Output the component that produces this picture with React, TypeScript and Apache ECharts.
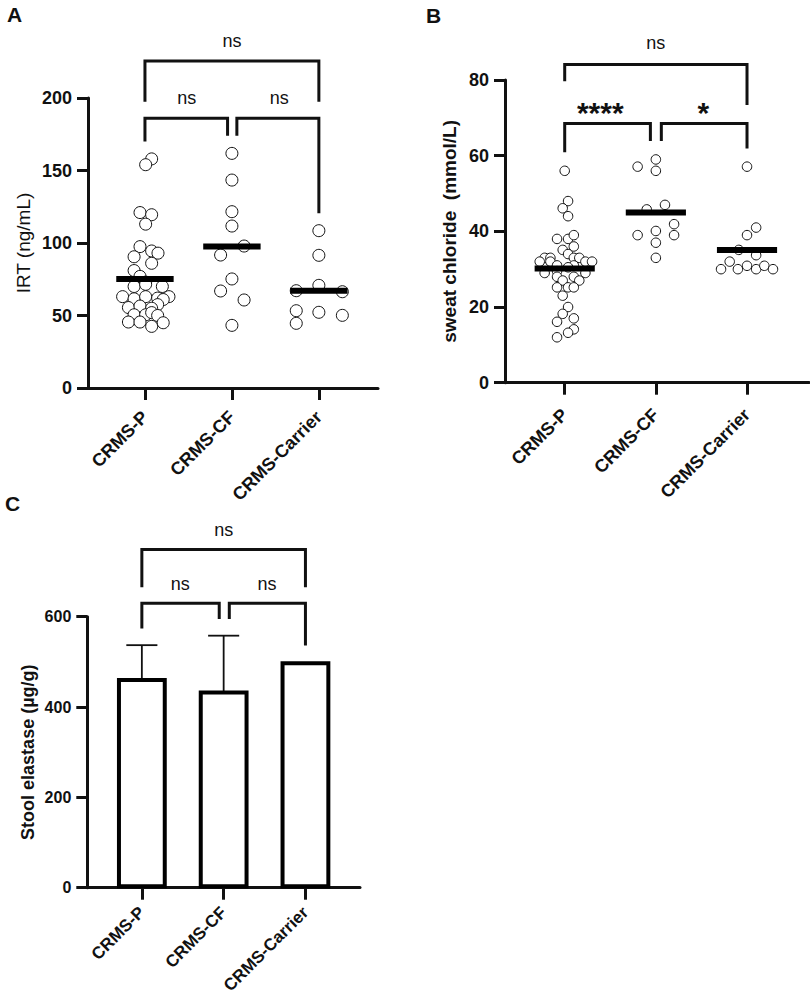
import React, { useEffect, useRef } from 'react';
import * as echarts from 'echarts';

const categories = ['CRMS-P', 'CRMS-CF', 'CRMS-Carrier'];

// Panel A – IRT (ng/mL); each point: [horizontal jitter within group, value]
const irtP = [
  [0.077, 158], [0.008, 154], [-0.057, 121], [0.077, 119.5], [0.008, 113],
  [-0.057, 97.5], [0.077, 94.5], [0.15, 93], [-0.125, 90.5], [0.077, 86],
  [-0.125, 81], [-0.057, 77], [0.008, 73],
  [-0.125, 70], [0.008, 71.5], [0.2, 70],
  [-0.257, 63], [-0.125, 61.5], [0.008, 63], [0.146, 62], [0.276, 63], [0.21, 61],
  [-0.19, 55.5], [-0.057, 56.5], [0.146, 57.5], [0.077, 55],
  [-0.125, 50.5], [0.008, 50.5], [0.077, 52], [0.146, 50],
  [-0.19, 45.5], [-0.057, 45.5], [0.077, 42.5], [0.21, 45],
];
const irtCF = [
  [0, 161.8], [0, 143.4], [0, 121.6], [0, 111.7], [0.14, 97.9],
  [-0.13, 91.7], [0, 75.2], [-0.13, 66.9], [0.14, 60.7], [0, 43.2],
];
const irtCarrier = [
  [0, 108.5], [0, 91.5], [0, 70.8], [-0.26, 67.1], [0.27, 66.4],
  [-0.26, 53.3], [0, 52.2], [0.27, 50.1], [-0.26, 44.6],
];
const irtMedians = [75.2, 97.6, 67.1];
const irtTicks = [0, 50, 100, 150, 200];

// Panel B – sweat chloride (mmol/L)
const chlorideP = [
  [0, 56], [0.037, 48], [-0.022, 46.1], [0.037, 44],
  [-0.084, 38], [0.037, 38], [0.1, 39], [0.1, 36], [-0.022, 35.1], [0.037, 34],
  [-0.22, 33], [-0.157, 33], [0.1, 33], [0.16, 33],
  [-0.274, 32], [-0.157, 32], [0.227, 32], [0.3, 32],
  [-0.084, 31], [0.1, 31], [0.037, 30.5],
  [-0.22, 29], [-0.084, 29.5], [0.227, 29],
  [-0.084, 28], [0.1, 28], [-0.022, 27], [0.16, 27],
  [-0.084, 25.2], [0.037, 25.2], [0.1, 25.2],
  [-0.022, 23], [0.037, 20], [-0.022, 18.2], [0.1, 17], [-0.084, 16.1],
  [0.1, 14.1], [0.037, 13.2], [-0.084, 12],
];
const chlorideCF = [
  [-0.2, 57.1], [0, 59], [0, 56], [-0.1, 45.8], [0.1, 47], [0.2, 41.9],
  [-0.2, 39], [0, 40.1], [0.2, 39], [0, 37], [0, 33],
];
const chlorideCarrier = [
  [0, 57.1], [0.1, 41], [0, 39], [-0.09, 35.1], [0.1, 33.7], [-0.19, 32],
  [-0.285, 30], [-0.1, 30], [0, 30.9], [0.1, 30], [0.19, 30.9], [0.285, 30],
];
const chlorideMedians = [30.2, 45.0, 35.1];
const chlorideTicks = [0, 20, 40, 60, 80];

// Panel C – stool elastase (µg/g)
const elastaseMeans = [460, 432, 497];
const elastaseUpper = [537, 558, null];
const elastaseTicks = [0, 200, 400, 600];

// Significance brackets: [x1, x2, yBar, yEnd1, yEnd2]
const bracketsA = [[0, 0.95, 186, 170, 174], [1.057, 2, 186, 174, 120.5], [0, 2, 225.5, 197.4, 197.4]];
const bracketsB = [[0, 0.94, 68.5, 60.9, 63.9], [1.06, 2, 68.5, 63.9, 61.9], [0, 2, 84.1, 79.7, 73.4]];
const bracketsC = [[0, 0.946, 630, 574, 595], [1.069, 2, 630, 595, 536], [0, 2, 749, 665, 665]];
const sigA = [{ x: 0.48, y: 198.6, text: 'ns' }, { x: 1.544, y: 198.6, text: 'ns' }, { x: 1.0, y: 237.7, text: 'ns' }];
const sigB = [{ x: 0.39, y: 73.1, text: '****' }, { x: 1.52, y: 73.1, text: '*' }, { x: 1.0, y: 89.2, text: 'ns' }];
const sigC = [{ x: 0.47, y: 668, text: 'ns' }, { x: 1.53, y: 668, text: 'ns' }, { x: 1.0, y: 788, text: 'ns' }];

const FONT = '"Liberation Sans", Arial, Helvetica, sans-serif';
const INK = '#111';

function xAxis(gridIndex: number, min: number, max: number, fontSize: number, margin: number) {
  return {
    type: 'value', gridIndex, min, max,
    axisLine: { show: true, onZero: false, lineStyle: { color: INK, width: 3 } },
    axisTick: { show: true, customValues: [0, 1, 2], length: 12, inside: false, lineStyle: { color: INK, width: 3 } },
    axisLabel: {
      customValues: [0, 1, 2], rotate: 45, margin, color: INK,
      fontFamily: FONT, fontWeight: 'bold', fontSize,
      formatter: (v: number) => categories[Math.round(v)] ?? '',
    },
    splitLine: { show: false },
  };
}

function yAxis(gridIndex: number, ticks: number[], name: string, nameGap: number, fontSize: number, nameSize: number, nameWeight: string) {
  return {
    type: 'value', gridIndex, min: ticks[0], max: ticks[ticks.length - 1], interval: ticks[1] - ticks[0],
    name, nameLocation: 'middle', nameGap,
    nameTextStyle: { fontFamily: FONT, fontSize: nameSize, fontWeight: nameWeight, color: INK },
    axisLine: { show: true, onZero: false, lineStyle: { color: INK, width: 3 } },
    axisTick: { show: true, length: 11, inside: false, lineStyle: { color: INK, width: 3 } },
    axisLabel: { margin: 16, color: INK, fontFamily: FONT, fontWeight: 'bold', fontSize },
    splitLine: { show: false },
  };
}

function scatter(idx: number, group: number, pts: number[][], size: number) {
  return {
    type: 'scatter', xAxisIndex: idx, yAxisIndex: idx, z: 3,
    symbol: 'circle', symbolSize: size,
    itemStyle: { color: '#fff', borderColor: INK, borderWidth: 1, opacity: 1 },
    data: pts.map(([o, v]) => [group + o, v]),
  };
}

function medians(idx: number, values: number[]) {
  return {
    type: 'custom', xAxisIndex: idx, yAxisIndex: idx, z: 5, clip: false,
    data: values.map((m, i) => [i, m]),
    encode: { x: 0, y: 1 },
    renderItem: (_p: any, api: any) => {
      const x = api.value(0), m = api.value(1);
      const a = api.coord([x - 0.33, m]);
      const b = api.coord([x + 0.33, m]);
      return { type: 'line', shape: { x1: a[0], y1: a[1], x2: b[0], y2: b[1] }, style: { stroke: '#000', lineWidth: 6 } };
    },
  };
}

function brackets(idx: number, rows: number[][]) {
  return {
    type: 'custom', xAxisIndex: idx, yAxisIndex: idx, z: 6, clip: false,
    data: rows,
    encode: { x: 0, y: 2 },
    renderItem: (_p: any, api: any) => {
      const x1 = api.value(0), x2 = api.value(1), yb = api.value(2), e1 = api.value(3), e2 = api.value(4);
      const pts = [api.coord([x1, e1]), api.coord([x1, yb]), api.coord([x2, yb]), api.coord([x2, e2])];
      return { type: 'polyline', shape: { points: pts }, style: { stroke: INK, lineWidth: 3, fill: null } };
    },
  };
}

function sigLabels(idx: number, labels: { x: number; y: number; text: string }[]) {
  return {
    type: 'custom', xAxisIndex: idx, yAxisIndex: idx, z: 6, clip: false,
    data: labels.map((l) => [l.x, l.y]),
    encode: { x: 0, y: 1 },
    renderItem: (p: any, api: any) => {
      const pt = api.coord([api.value(0), api.value(1)]);
      const l = labels[p.dataIndex];
      const star = l.text.startsWith('*');
      return {
        type: 'text', x: pt[0], y: pt[1] + (star ? 6 : -2),
        style: {
          text: l.text, fill: INK, fontFamily: FONT,
          fontSize: star ? 30 : 18, fontWeight: star ? 'bold' : 'normal',
          align: 'center', verticalAlign: 'middle',
        },
      };
    },
  };
}

export default function App() {
  const ref = useRef<HTMLDivElement>(null);
  useEffect(() => {
    if (!ref.current) return;
    const chart = echarts.init(ref.current, undefined, { renderer: 'svg' });
    const option = {
      animation: false,
      backgroundColor: '#fff',
      grid: [
        { left: 88, top: 98, width: 290, height: 290 },
        { left: 505, top: 80, width: 304, height: 302.7 },
        { left: 87.3, top: 616.7, width: 272.7, height: 271 },
      ],
      xAxis: [
        xAxis(0, -0.655, 2.68, 18, 26),
        xAxis(1, -0.655, 2.68, 18, 29),
        xAxis(2, -0.667, 2.667, 17, 22),
      ],
      yAxis: [
        yAxis(0, irtTicks, 'IRT (ng/mL)', 55, 18, 19, 'normal'),
        yAxis(1, chlorideTicks, 'sweat chloride  (mmol/L)', 46, 18, 19, 'bold'),
        yAxis(2, elastaseTicks, 'Stool elastase (µg/g)', 50, 16, 18, 'bold'),
      ],
      graphic: [
        { type: 'text', left: 7, top: 4, style: { text: 'A', fontFamily: FONT, fontWeight: 'bold', fontSize: 21, fill: INK } },
        { type: 'text', left: 426, top: 5, style: { text: 'B', fontFamily: FONT, fontWeight: 'bold', fontSize: 21, fill: INK } },
        { type: 'text', left: 5, top: 493, style: { text: 'C', fontFamily: FONT, fontWeight: 'bold', fontSize: 21, fill: INK } },
      ],
      series: [
        scatter(0, 0, irtP, 12),
        scatter(0, 1, irtCF, 12),
        scatter(0, 2, irtCarrier, 12),
        medians(0, irtMedians),
        brackets(0, bracketsA),
        sigLabels(0, sigA),

        scatter(1, 0, chlorideP, 9.5),
        scatter(1, 1, chlorideCF, 9.5),
        scatter(1, 2, chlorideCarrier, 9.5),
        medians(1, chlorideMedians),
        brackets(1, bracketsB),
        sigLabels(1, sigB),

        {
          type: 'custom', xAxisIndex: 2, yAxisIndex: 2, z: 3, clip: false,
          data: elastaseUpper.map((u, i) => (u == null ? null : [i, elastaseMeans[i], u])).filter((d) => d) as number[][],
          encode: { x: 0, y: 2 },
          renderItem: (_p: any, api: any) => {
            const x = api.value(0), m = api.value(1), u = api.value(2);
            const b = api.coord([x, m]);
            const t = api.coord([x, u]);
            const c1 = api.coord([x - 0.19, u]);
            const c2 = api.coord([x + 0.19, u]);
            return {
              type: 'group',
              children: [
                { type: 'line', shape: { x1: b[0], y1: b[1], x2: t[0], y2: t[1] }, style: { stroke: INK, lineWidth: 1.8 } },
                { type: 'line', shape: { x1: c1[0], y1: c1[1], x2: c2[0], y2: c2[1] }, style: { stroke: INK, lineWidth: 1.8 } },
              ],
            };
          },
        },
        {
          type: 'custom', xAxisIndex: 2, yAxisIndex: 2, z: 4, clip: false,
          data: elastaseMeans.map((m, i) => [i, m]),
          encode: { x: 0, y: 1 },
          renderItem: (_p: any, api: any) => {
            const x = api.value(0), m = api.value(1);
            const tl = api.coord([x - 0.28, m]);
            const br = api.coord([x + 0.28, 0]);
            return {
              type: 'rect',
              shape: { x: tl[0], y: tl[1], width: br[0] - tl[0], height: br[1] - tl[1] - 1.5 },
              style: { fill: '#fff', stroke: '#000', lineWidth: 4 },
            };
          },
        },
        brackets(2, bracketsC),
        sigLabels(2, sigC),
      ],
    };
    chart.setOption(option as any);
    return () => chart.dispose();
  }, []);
  return <div ref={ref} style={{ position: 'fixed', left: 0, top: 0, width: 810, height: 998, background: '#fff' }} />;
}
